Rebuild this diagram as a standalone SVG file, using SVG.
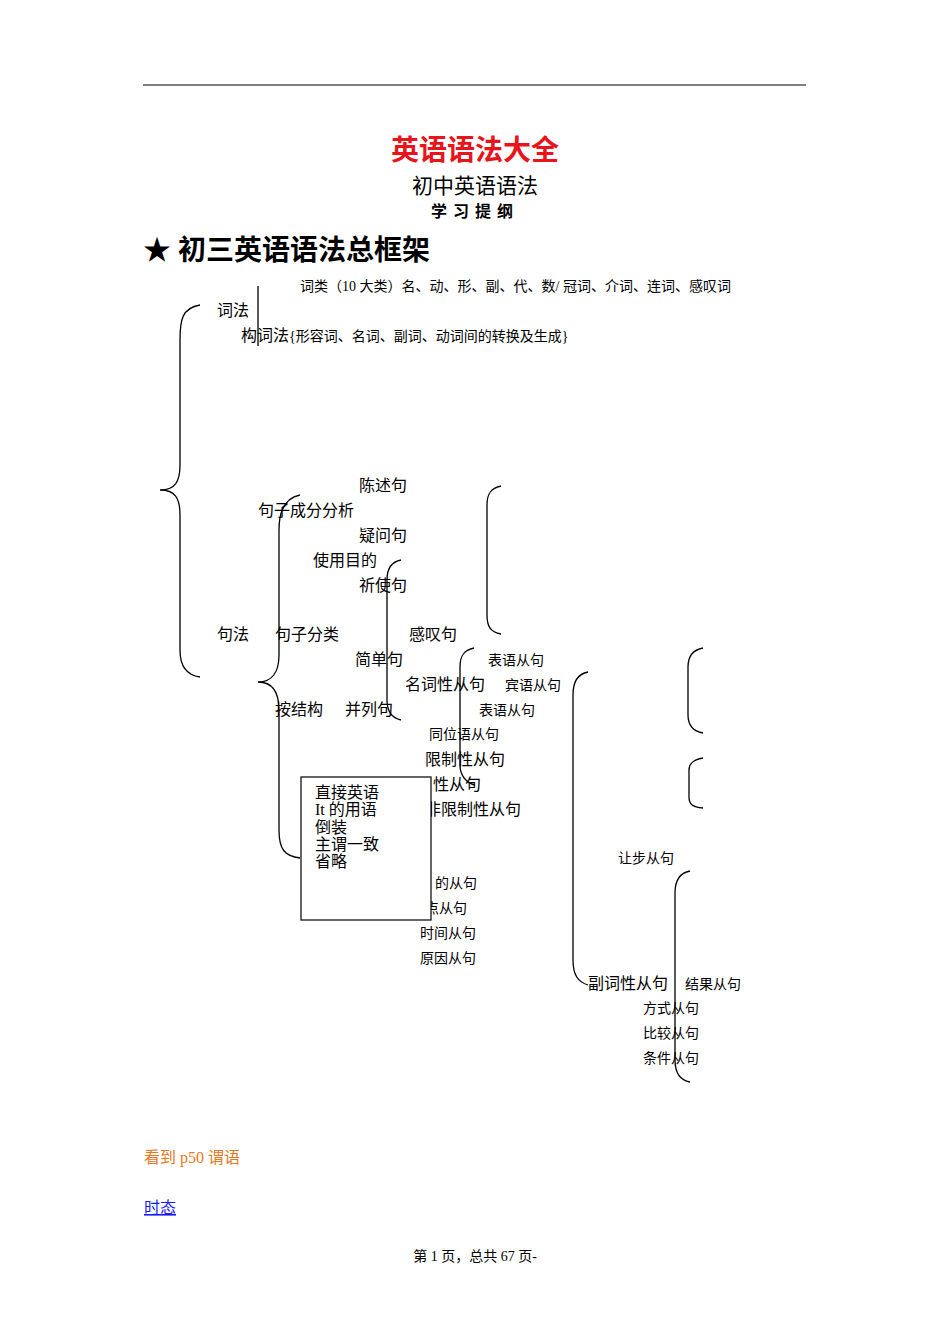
<svg xmlns="http://www.w3.org/2000/svg" width="950" height="1344" viewBox="0 0 950 1344">
<style>
text{font-family:"Liberation Serif","Noto Sans CJK SC",serif;fill:#000}
.m{font-size:16px}.s{font-size:14px}
.b{fill:none;stroke:#000;stroke-width:1.3}
</style>
<rect width="950" height="1344" fill="#fff"/>
<line x1="143" y1="85" x2="806" y2="85" stroke="#000" stroke-width="1"/>
<text x="475" y="160" text-anchor="middle" style="font-size:28px;font-weight:bold;fill:#e8141b">英语语法大全</text>
<text x="475" y="193" text-anchor="middle" style="font-size:21px">初中英语语法</text>
<text x="475" y="217" text-anchor="middle" style="font-size:16px;font-weight:bold;letter-spacing:6px">学习提纲</text>
<text x="143" y="260" style="font-size:28px;font-weight:bold">★   初三英语语法总框架</text>
<g id="connectors">
<path class="b" d="M200,305 C182,308 180,320 180,340 L180,465 C180,482 175,490 160,490 C175,490 180,498 180,515 L180,650 C180,665 185,675 200,677"/>
<line x1="258" y1="286" x2="258" y2="346" stroke="#000" stroke-width="1.3"/>
<path class="b" d="M300,495 C285,498 279,510 279,530 L279,655 C279,672 272,682 258,682 C272,682 279,692 279,710 L279,830 C279,850 285,856 300,858"/>
<path class="b" d="M401,560 C390,562 387,570 387,580 L387,700 C387,712 392,718 401,720"/>
<path class="b" d="M501,486 C490,488 487,495 487,505 L487,615 C487,626 490,632 501,634"/>
<path class="b" d="M474,648 C463,650 460,657 460,667 L460,765 C460,775 466,783 475,785"/>
<path class="b" d="M588,672 C577,674 573,682 573,695 L573,960 C573,975 578,982 588,985"/>
<path class="b" d="M703,648 C692,650 688,657 688,667 L688,715 C688,725 692,731 703,733"/>
<path class="b" d="M703,758 C692,760 689,764 689,770 L689,797 C689,804 692,807 703,808"/>
<path class="b" d="M690,871 C679,873 675,881 675,893 L675,1060 C675,1072 679,1080 690,1082"/>
</g>
<g id="n-words">
<text x="300" y="291" class="s">词类（10 大类）名、动、形、副、代、数/ 冠词、介词、连词、感叹词</text>
<text x="217" y="316" class="m">词法</text>
<text x="241" y="341" class="m">构词法<tspan class="s">{形容词、名词、副词、动词间的转换及生成}</tspan></text>
</g>
<g id="n-syntax">
<text x="359" y="491" class="m">陈述句</text>
<text x="258" y="516" class="m">句子成分分析</text>
<text x="359" y="541" class="m">疑问句</text>
<text x="313" y="566" class="m">使用目的</text>
<text x="359" y="591" class="m">祈使句</text>
<text x="217" y="640" class="m">句法</text>
<text x="275" y="640" class="m">句子分类</text>
<text x="409" y="640" class="m">感叹句</text>
<text x="355" y="665" class="m">简单句</text>
<text x="405" y="690" class="m">名词性从句</text>
<text x="275" y="715" class="m">按结构</text>
<text x="345" y="715" class="m">并列句</text>
<text x="425" y="765" class="m">限制性从句</text>
<text x="433" y="790" class="m">性从句</text>
<text x="425" y="815" class="m">非限制性从句</text>
</g>
<g id="n-clauses">
<text x="488" y="665" class="s">表语从句</text>
<text x="505" y="690" class="s">宾语从句</text>
<text x="479" y="715" class="s">表语从句</text>
<text x="429" y="739" class="s">同位语从句</text>
<text x="618" y="863" class="s">让步从句</text>
<text x="435" y="888" class="s">的从句</text>
<text x="425" y="913" class="s">点从句</text>
<text x="420" y="938" class="s">时间从句</text>
<text x="420" y="963" class="s">原因从句</text>
<text x="588" y="989" class="m">副词性从句</text>
<text x="685" y="989" class="s">结果从句</text>
<text x="643" y="1013" class="s">方式从句</text>
<text x="643" y="1038" class="s">比较从句</text>
<text x="643" y="1063" class="s">条件从句</text>
</g>
<g id="box">
<rect x="301" y="777" width="130" height="143" fill="#fff" stroke="#000" stroke-width="1.2"/>
<text x="315" y="798" class="m">直接英语</text>
<text x="315" y="815" class="m">It 的用语</text>
<text x="315" y="833" class="m">倒装</text>
<text x="315" y="850" class="m">主谓一致</text>
<text x="315" y="867" class="m">省略</text>
</g>
<text x="144" y="1163" class="m" style="fill:#e87722">看到 p50 谓语</text>
<text x="144" y="1213" class="m" style="fill:#1a1aff;text-decoration:underline">时态</text>
<text x="475" y="1261" text-anchor="middle" class="s">第 1 页，总共 67 页-</text>
</svg>
